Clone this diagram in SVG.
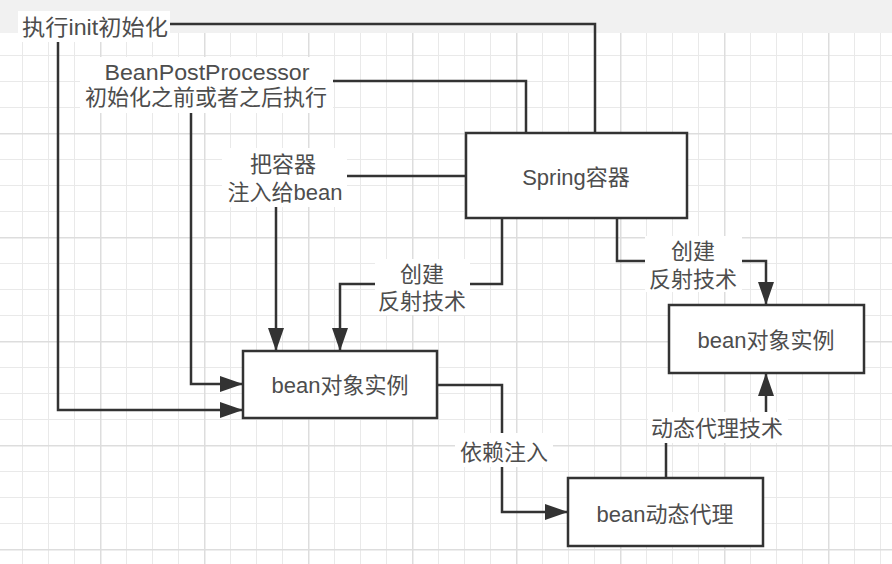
<svg xmlns="http://www.w3.org/2000/svg" width="892" height="564" viewBox="0 0 892 564">
<style>
.node rect{fill:#fff;stroke:#333;stroke-width:2.5}
.node text,.label text{font-family:"Liberation Sans","Noto Sans CJK SC",sans-serif;font-size:22px;fill:#4d4d4d;text-anchor:middle;dominant-baseline:central}
.conn path{fill:none;stroke:#333;stroke-width:2.5;marker-end:url(#arrow)}
.label rect{fill:#fff}
</style>
<defs>
<marker id="arrow" markerUnits="userSpaceOnUse" markerWidth="23" markerHeight="16" refX="23" refY="8" orient="auto">
<path d="M0,0 L23,8 L0,16 z" fill="#333"/>
</marker>
<pattern id="grid" patternUnits="userSpaceOnUse" x="-4" y="29" width="104" height="104">
<rect x="0" y="0" width="104" height="104" fill="#fff"/>
<rect x="26" y="0" width="1" height="104" fill="#e9e9e9"/>
<rect x="52" y="0" width="1" height="104" fill="#e9e9e9"/>
<rect x="78" y="0" width="1" height="104" fill="#e9e9e9"/>
<rect x="0" y="26" width="104" height="1" fill="#e9e9e9"/>
<rect x="0" y="52" width="104" height="1" fill="#e9e9e9"/>
<rect x="0" y="78" width="104" height="1" fill="#e9e9e9"/>
<rect x="0" y="0" width="1.5" height="104" fill="#dddddd"/>
<rect x="0" y="0" width="104" height="1.5" fill="#dddddd"/>
</pattern>
</defs>
<rect x="0" y="0" width="892" height="564" fill="url(#grid)"/>
<rect x="0" y="0" width="892" height="33" fill="#f1f1f1"/>

<g id="connectors" class="conn">
<path id="c-init" d="M595,133 V24 H58 V410 H243"/>
<path id="c-bpp" d="M526,133 V81 H191 V384 H243"/>
<path id="c-inject" d="M466,176 H276 V351"/>
<path id="c-create-left" d="M502,218 V284 H340 V351"/>
<path id="c-create-right" d="M617,218 V261 H766 V305"/>
<path id="c-di" d="M437,385 H502 V512 H568"/>
<path id="c-proxy" d="M666,478 V428 H766 V373"/>
</g>

<g id="edge-labels" class="label">
<g id="l-init"><rect x="18" y="11" width="152" height="31"/><text x="95" y="27" textLength="146" lengthAdjust="spacingAndGlyphs">执行init初始化</text></g>
<g id="l-bpp"><rect x="80" y="57" width="253" height="56"/><text x="207" y="72" textLength="205" lengthAdjust="spacingAndGlyphs">BeanPostProcessor</text><text x="206" y="97">初始化之前或者之后执行</text></g>
<g id="l-inject"><rect x="222" y="148" width="125" height="59"/><text x="283" y="164">把容器</text><text x="285" y="192">注入给bean</text></g>
<g id="l-create-left"><rect x="375" y="259" width="95" height="56"/><text x="422" y="274">创建</text><text x="422" y="301">反射技术</text></g>
<g id="l-create-right"><rect x="645" y="236" width="97" height="56"/><text x="693" y="251">创建</text><text x="693" y="279">反射技术</text></g>
<g id="l-di"><rect x="455" y="433" width="98" height="34"/><text x="504" y="452">依赖注入</text></g>
<g id="l-proxy"><rect x="648" y="412" width="140" height="31"/><text x="717" y="428">动态代理技术</text></g>
</g>

<g id="n-spring" class="node"><rect x="466" y="133" width="221" height="85"/><text x="576" y="177">Spring容器</text></g>
<g id="n-bean-left" class="node"><rect x="243" y="351" width="194" height="67"/><text x="340" y="385">bean对象实例</text></g>
<g id="n-bean-right" class="node"><rect x="669" y="305" width="195" height="68"/><text x="766" y="340">bean对象实例</text></g>
<g id="n-proxy" class="node"><rect x="568" y="478" width="195" height="68"/><text x="665" y="514">bean动态代理</text></g>
</svg>
